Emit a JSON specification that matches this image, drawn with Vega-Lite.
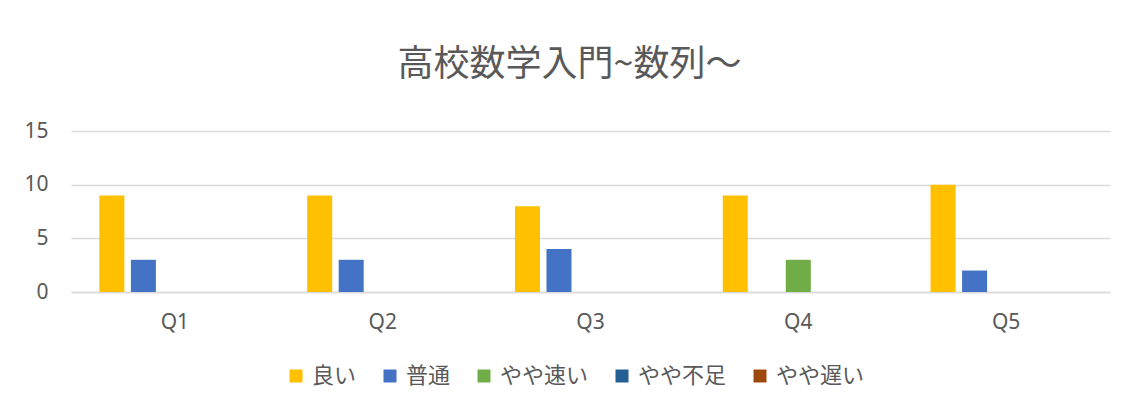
{
  "$schema": "https://vega.github.io/schema/vega-lite/v6.json",
  "width": 1039,
  "height": 161,
  "autosize": {"type": "none"},
  "padding": {"left": 71, "top": 131, "right": 17, "bottom": 116},
  "background": "white",
  "title": {
    "text": "高校数学入門~数列～",
    "font": "Noto Sans CJK JP",
    "fontSize": 36,
    "fontWeight": "normal",
    "color": "#595959",
    "anchor": "middle",
    "dx": -21,
    "offset": 36
  },
  "data": {
    "values": [
      {"q": "Q1", "s": "良い", "v": 9},
      {"q": "Q1", "s": "普通", "v": 3},
      {"q": "Q1", "s": "やや速い", "v": 0},
      {"q": "Q1", "s": "やや不足", "v": 0},
      {"q": "Q1", "s": "やや遅い", "v": 0},
      {"q": "Q2", "s": "良い", "v": 9},
      {"q": "Q2", "s": "普通", "v": 3},
      {"q": "Q2", "s": "やや速い", "v": 0},
      {"q": "Q2", "s": "やや不足", "v": 0},
      {"q": "Q2", "s": "やや遅い", "v": 0},
      {"q": "Q3", "s": "良い", "v": 8},
      {"q": "Q3", "s": "普通", "v": 4},
      {"q": "Q3", "s": "やや速い", "v": 0},
      {"q": "Q3", "s": "やや不足", "v": 0},
      {"q": "Q3", "s": "やや遅い", "v": 0},
      {"q": "Q4", "s": "良い", "v": 9},
      {"q": "Q4", "s": "普通", "v": 0},
      {"q": "Q4", "s": "やや速い", "v": 3},
      {"q": "Q4", "s": "やや不足", "v": 0},
      {"q": "Q4", "s": "やや遅い", "v": 0},
      {"q": "Q5", "s": "良い", "v": 10},
      {"q": "Q5", "s": "普通", "v": 2},
      {"q": "Q5", "s": "やや速い", "v": 0},
      {"q": "Q5", "s": "やや不足", "v": 0},
      {"q": "Q5", "s": "やや遅い", "v": 0}
    ]
  },
  "mark": {"type": "bar"},
  "encoding": {
    "x": {
      "field": "q",
      "type": "nominal",
      "sort": ["Q1", "Q2", "Q3", "Q4", "Q5"],
      "scale": {"paddingInner": 0, "paddingOuter": 0},
      "axis": {
        "title": null,
        "labelAngle": 0,
        "ticks": false,
        "domain": true,
        "domainColor": "#D9D9D9",
        "domainWidth": 1.5,
        "labelFont": "Noto Sans",
        "labelFontSize": 21,
        "labelColor": "#595959",
        "labelPadding": 19
      }
    },
    "xOffset": {
      "field": "s",
      "type": "nominal",
      "sort": ["良い", "普通", "やや速い", "やや不足", "やや遅い"],
      "scale": {"domain": ["良い", "普通", "やや速い", "やや不足", "やや遅い"], "paddingInner": 0.206, "paddingOuter": 0.9}
    },
    "y": {
      "field": "v",
      "type": "quantitative",
      "scale": {"domain": [0, 15]},
      "axis": {
        "title": null,
        "values": [0, 5, 10, 15],
        "ticks": false,
        "domain": false,
        "grid": true,
        "gridColor": "#D9D9D9",
        "gridWidth": 1.5,
        "labelFont": "Noto Sans",
        "labelFontSize": 21,
        "labelColor": "#595959",
        "labelPadding": 23
      }
    },
    "color": {
      "field": "s",
      "type": "nominal",
      "scale": {
        "domain": ["良い", "普通", "やや速い", "やや不足", "やや遅い"],
        "range": ["#FFC000", "#4472C4", "#70AD47", "#255E91", "#9E480E"]
      },
      "legend": {
        "title": null,
        "orient": "none",
        "legendX": 214,
        "legendY": 234,
        "direction": "horizontal",
        "symbolType": "square",
        "symbolSize": 169,
        "symbolStrokeWidth": 0,
        "symbolOpacity": 1,
        "labelOffset": 5,
        "columnPadding": 22,
        "labelFont": "Noto Sans CJK JP",
        "labelFontSize": 22,
        "labelColor": "#595959",
        "padding": 0
      }
    }
  },
  "config": {"view": {"stroke": null}}
}
